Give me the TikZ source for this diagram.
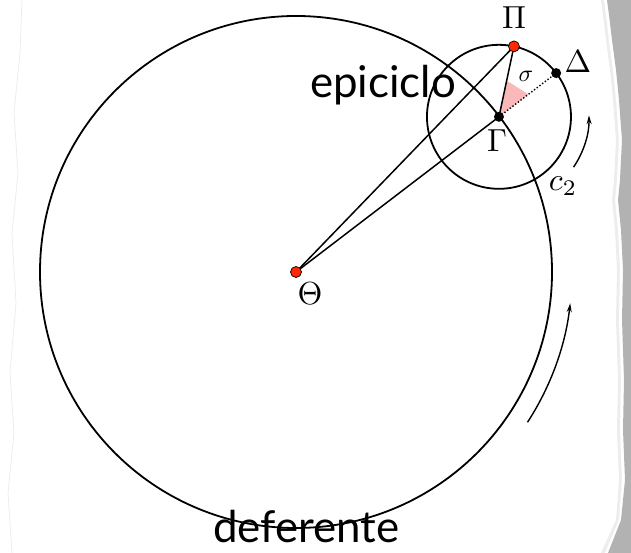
\documentclass[tikz,border=0pt]{standalone}
\usepackage{fontspec}
\newfontfamily\wordfont{Lato}
\usetikzlibrary{calc,arrows.meta}
\definecolor{dotred}{RGB}{255,40,0}
\definecolor{wedgepink}{RGB}{250,185,185}
\begin{document}
\begin{tikzpicture}[x=1bp,y=1bp,
  orbit/.style={line width=1.8bp},
  ray/.style={line width=1.5bp},
  reddot/.style={circle,fill=dotred,draw=black,line width=0.7bp,inner sep=0pt,minimum size=11bp},
  blackdot/.style={circle,fill=black,inner sep=0pt,minimum size=10bp},
  mathlabel/.style={inner sep=0pt,scale=3.2},
  word/.style={font=\wordfont\fontsize{44}{50}\selectfont,inner sep=0pt},
  motion/.style={line width=1.4bp,-{Stealth[length=9bp,width=5bp]}}]
\useasboundingbox (0,0) rectangle (631,553);
% torn paper edge on the right
\fill[gray!14] (601,553) -- (603,538) -- (606,513) -- (610,483) -- (613,453) -- (616,413) -- (614,373) -- (612,353) -- (615,323) -- (617,283) -- (616,233) -- (618,173) -- (617,123) -- (619,73) -- (616,33) -- (601,0) -- (631,0) -- (631,553) -- cycle;
\fill[white] (604,553) -- (606,538) -- (609,513) -- (613,483) -- (616,453) -- (619,413) -- (617,373) -- (615,353) -- (618,323) -- (620,283) -- (619,233) -- (621,173) -- (620,123) -- (622,73) -- (619,33) -- (605,0) -- (631,0) -- (631,553) -- cycle;
\fill[gray!60] (607,553) -- (609,538) -- (612,513) -- (616,483) -- (619,453) -- (622,413) -- (620,373) -- (618,353) -- (621,323) -- (623,283) -- (622,233) -- (624,173) -- (623,123) -- (625,73) -- (621,33) -- (608,0) -- (631,0) -- (631,553) -- cycle;
% faint left edge
\draw[gray!15,line width=0.8bp] (22,553) -- (20,500) -- (14,440) -- (18,380) -- (12,320) -- (16,250) -- (10,180) -- (14,120) -- (8,60) -- (12,0);
% geometry
\coordinate (T) at (296,281);
\coordinate (G) at ($(T)+(37.4:255.5)$);
\coordinate (P) at ($(G)+(78:72)$);
\coordinate (D) at ($(G)+(37.4:72)$);
\fill[wedgepink] (G) -- ($(G)+(37.4:37)$) -- ($(G)+(78:37)$) -- cycle;
\draw[orbit] (T) circle[radius=256];
\draw[orbit] (G) circle[radius=72];
\draw[ray] (T) -- (P);
\draw[ray] (T) -- (G);
\draw[ray] (G) -- (P);
\draw[dotted,line width=1.4bp] (G) -- (D);
% motion arrows
\draw[motion] ($(G)+(-34:90)$) arc[start angle=-34,end angle=1,radius=90];
\draw[motion] ($(T)+(-33:276)$) arc[start angle=-33,end angle=-6.5,radius=276];
% dots
\node[reddot] (Tdot) at (T) {};
\node[reddot] (Pdot) at (P) {};
\node[blackdot] (Gdot) at (G) {};
\node[blackdot] (Ddot) at (D) {};
% labels
\node[mathlabel] (Plab) at (514,535) {$\Pi$};
\node[mathlabel] (Dlab) at (578,491) {$\Delta$};
\node[mathlabel] (Glab) at (497,412) {$\Gamma$};
\node[mathlabel,scale=0.75] (slab) at (526,477) {$\sigma$};
\node[mathlabel] (clab) at (563,367) {$c_2$};
\node[mathlabel] (Tlab) at (310,259) {$\Theta$};
\node[word,anchor=base west] (epi) at (310,455) {epiciclo};
\node[word,anchor=base west] (def) at (213,10) {deferente};
\end{tikzpicture}
\end{document}
